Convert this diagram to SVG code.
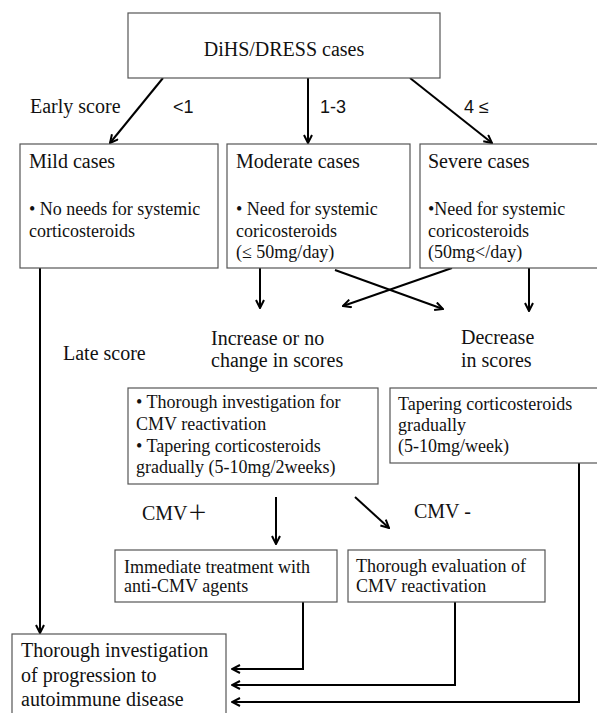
<svg xmlns="http://www.w3.org/2000/svg" width="597" height="713" viewBox="0 0 597 713">
<style>
.box{fill:#fff;stroke:#555;stroke-width:1.2}
.t{font-family:"Liberation Serif","Times New Roman",serif;fill:#111}
.t20{font-size:20px}
.t18{font-size:18px}
.s{font-family:"Liberation Sans",Arial,sans-serif;font-size:18px;fill:#111}
.c{fill:none;stroke:#000;stroke-width:2}
</style>
<defs>
<marker id="ah" viewBox="0 0 10 10" refX="9" refY="5" markerWidth="10" markerHeight="10" markerUnits="userSpaceOnUse" orient="auto">
<path d="M1,1 L9,5 L1,9" fill="none" stroke="#000" stroke-width="2"/>
</marker>
</defs>
<rect width="597" height="713" fill="#fff"/>
<g id="connectors">
<line class="c" x1="163" y1="78" x2="110" y2="143" marker-end="url(#ah)"/>
<line class="c" x1="308" y1="78" x2="308" y2="143" marker-end="url(#ah)"/>
<line class="c" x1="410" y1="78" x2="492" y2="143" marker-end="url(#ah)"/>
<line class="c" x1="40" y1="268" x2="40" y2="633" marker-end="url(#ah)"/>
<line class="c" x1="260" y1="268" x2="260" y2="308" marker-end="url(#ah)"/>
<line class="c" x1="529" y1="268" x2="529" y2="311" marker-end="url(#ah)"/>
<line class="c" x1="335" y1="270" x2="443" y2="309" marker-end="url(#ah)"/>
<line class="c" x1="452" y1="268" x2="343" y2="306" marker-end="url(#ah)"/>
<line class="c" x1="276" y1="497" x2="276" y2="544" marker-end="url(#ah)"/>
<line class="c" x1="355" y1="497" x2="389" y2="528" marker-end="url(#ah)"/>
<polyline class="c" points="303,602 303,669 232,669" marker-end="url(#ah)"/>
<polyline class="c" points="455,602 455,685 232,685" marker-end="url(#ah)"/>
<polyline class="c" points="579,463 579,702 232,702" marker-end="url(#ah)"/>
</g>
<g id="labels">
<text class="t t20" x="30" y="113">Early score</text>
<text class="s" x="173" y="113">&lt;1</text>
<text class="s" x="320" y="113">1-3</text>
<text class="s" x="464" y="113">4 ≤</text>
<text class="t t20" x="63" y="360">Late score</text>
<text class="t t20" x="142" y="520">CMV<tspan font-family="'Noto Sans CJK JP',sans-serif">＋</tspan></text>
<text class="t t20" x="414" y="518">CMV -</text>
</g>
<g id="n-top">
<rect class="box" x="128" y="13" width="312" height="65"/>
<text class="t t20" x="284" y="56" text-anchor="middle">DiHS/DRESS cases</text>
</g>
<g id="n-mild">
<rect class="box" x="20" y="144" width="198" height="124"/>
<text class="t t20" x="29" y="168">Mild cases</text>
<text class="t t18" x="29" y="215">• No needs for systemic</text>
<text class="t t18" x="29" y="237">corticosteroids</text>
</g>
<g id="n-moderate">
<rect class="box" x="227" y="144" width="183" height="124"/>
<text class="t t20" x="236" y="168">Moderate cases</text>
<text class="t t18" x="236" y="215">• Need for systemic</text>
<text class="t t18" x="236" y="237">coricosteroids</text>
<text class="t t18" x="236" y="258">(≤ 50mg/day)</text>
</g>
<g id="n-severe">
<rect class="box" x="420" y="144" width="190" height="124"/>
<text class="t t20" x="428" y="168">Severe cases</text>
<text class="t t18" x="428" y="215">•Need for systemic</text>
<text class="t t18" x="428" y="237">coricosteroids</text>
<text class="t t18" x="428" y="258">(50mg&lt;/day)</text>
</g>
<g id="n-increase">
<text class="t t20" x="211" y="345">Increase or no</text>
<text class="t t20" x="211" y="367">change in scores</text>
</g>
<g id="n-decrease">
<text class="t t20" x="461" y="344">Decrease</text>
<text class="t t20" x="461" y="367">in scores</text>
</g>
<g id="n-investigate">
<rect class="box" x="128" y="388" width="250" height="96"/>
<text class="t t18" x="136" y="408">• Thorough investigation for</text>
<text class="t t18" x="136" y="430">CMV reactivation</text>
<text class="t t18" x="136" y="452">• Tapering corticosteroids</text>
<text class="t t18" x="136" y="473">gradually (5-10mg/2weeks)</text>
</g>
<g id="n-taper">
<rect class="box" x="390" y="388" width="220" height="75"/>
<text class="t t18" x="398" y="410">Tapering corticosteroids</text>
<text class="t t18" x="398" y="431">gradually</text>
<text class="t t18" x="398" y="452">(5-10mg/week)</text>
</g>
<g id="n-immediate">
<rect class="box" x="115" y="550" width="222" height="52"/>
<text class="t t18" x="124" y="573">Immediate treatment with</text>
<text class="t t18" x="124" y="592">anti-CMV agents</text>
</g>
<g id="n-evaluation">
<rect class="box" x="348" y="550" width="197" height="52"/>
<text class="t t18" x="356" y="572">Thorough evaluation of</text>
<text class="t t18" x="356" y="592">CMV reactivation</text>
</g>
<g id="n-autoimmune">
<rect class="box" x="12" y="634" width="214" height="100"/>
<text class="t t20" x="21" y="657">Thorough investigation</text>
<text class="t t20" x="21" y="682">of progression to</text>
<text class="t t20" x="21" y="706">autoimmune disease</text>
</g>
</svg>
